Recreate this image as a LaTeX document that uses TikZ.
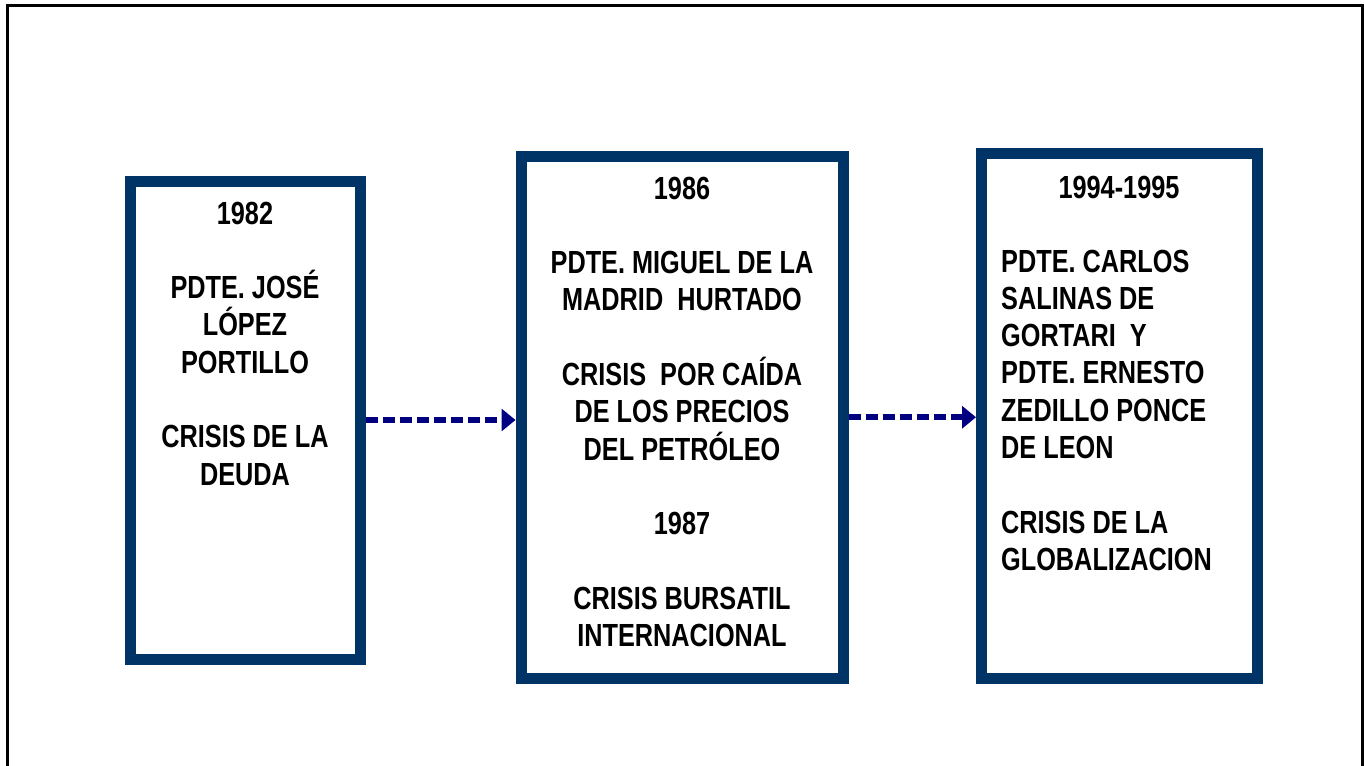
\documentclass[tikz,border=0pt]{standalone}
\usepackage{fontspec}
\newfontfamily\narrowfont[FakeStretch=0.79]{Liberation Sans}
\usetikzlibrary{arrows.meta}
\definecolor{boxcol}{RGB}{0,51,102}
\definecolor{arrowcol}{RGB}{0,0,128}
\tikzset{
  eventbox/.style={draw=boxcol, line width=11pt, rectangle, inner sep=0pt, fill=none},
  boxtext/.style={font=\narrowfont\bfseries\fontsize{32}{37.3}\selectfont, inner sep=0pt, anchor=north, text=black},
  link/.style={draw=arrowcol, line width=6pt, dash pattern=on 12pt off 5pt, -{Triangle[length=14pt,width=22pt]}}
}
\begin{document}
\begin{tikzpicture}[x=1pt,y=-1pt]
\useasboundingbox (0,0) rectangle (1364,765);
\begin{scope}
\clip (0,0) rectangle (1364,765);
\draw[line width=3pt] (7,790) -- (7,5.5) -- (1362,5.5) -- (1362,790);
\end{scope}
\node[eventbox, minimum width=230, minimum height=478] (b1) at (245,420) {};
\node[eventbox, minimum width=322.5, minimum height=522.5] (b2) at (682.25,417.25) {};
\node[eventbox, minimum width=275.5, minimum height=525] (b3) at (1119.25,415.5) {};
\node[boxtext, align=center] (t1) at (245,201.5) {1982\\[37.3pt]PDTE. JOSÉ\\LÓPEZ\\PORTILLO\\[37.3pt]CRISIS DE LA\\DEUDA};
\node[boxtext, align=center] (t2) at (682,176.5) {1986\\[37.3pt]PDTE. MIGUEL DE LA\\MADRID\ \ HURTADO\\[37.3pt]CRISIS\ \ POR CAÍDA\\DE LOS PRECIOS\\DEL PETRÓLEO\\[37.3pt]1987\\[37.3pt]CRISIS BURSATIL\\INTERNACIONAL};
\node[boxtext, align=center] (y3) at (1119,175.5) {1994-1995};
\node[boxtext, align=left, anchor=north west] (t3) at (1001,249.5) {PDTE. CARLOS\\SALINAS DE\\GORTARI\ \ Y\\PDTE. ERNESTO\\ZEDILLO PONCE\\DE LEON\\[37.3pt]CRISIS DE LA\\GLOBALIZACION};
\draw[link] (b1.east) -- (b1.east -| b2.west);
\draw[link] (b2.east) -- (b2.east -| b3.west);
\end{tikzpicture}
\end{document}
